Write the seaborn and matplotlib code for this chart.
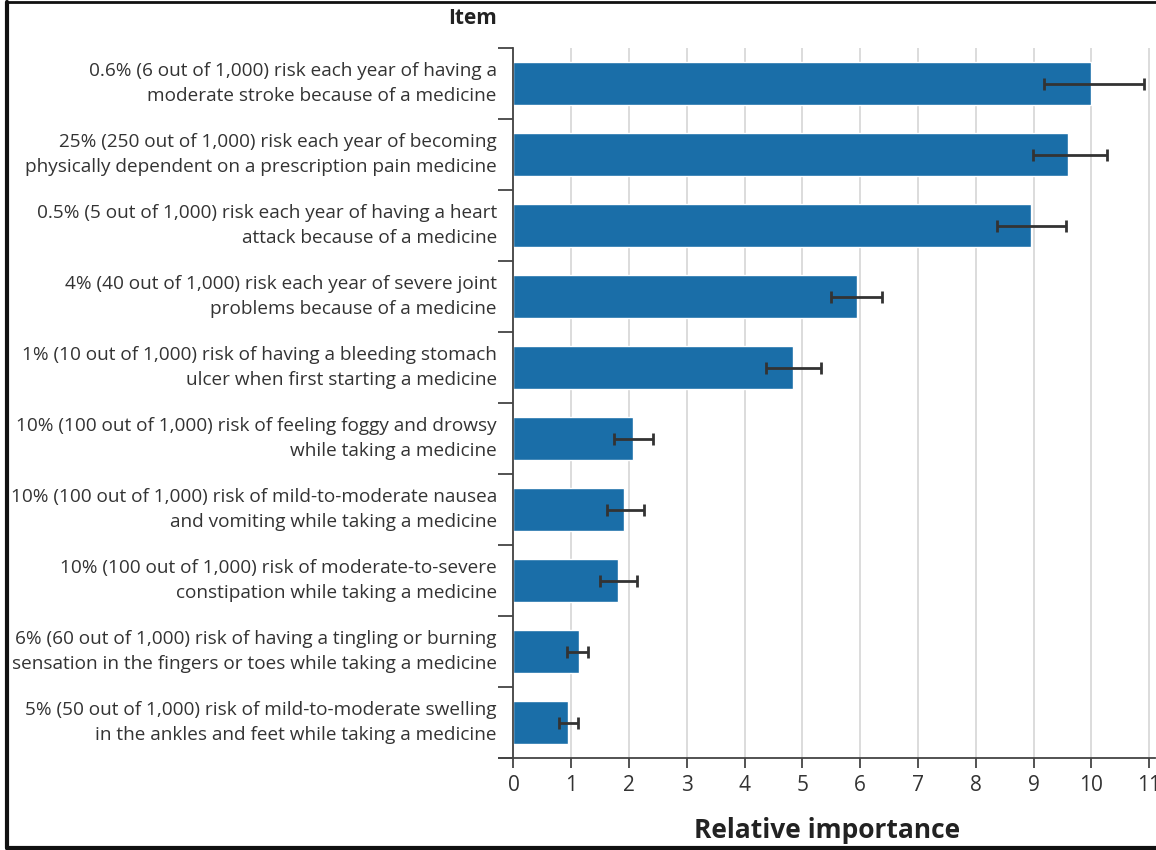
import numpy as np
import pandas as pd
import seaborn as sns
import matplotlib.pyplot as plt
from matplotlib.lines import Line2D

items = [
    "0.6% (6 out of 1,000) risk each year of having a\nmoderate stroke because of a medicine",
    "25% (250 out of 1,000) risk each year of becoming\nphysically dependent on a prescription pain medicine",
    "0.5% (5 out of 1,000) risk each year of having a heart\nattack because of a medicine",
    "4% (40 out of 1,000) risk each year of severe joint\nproblems because of a medicine",
    "1% (10 out of 1,000) risk of having a bleeding stomach\nulcer when first starting a medicine",
    "10% (100 out of 1,000) risk of feeling foggy and drowsy\nwhile taking a medicine",
    "10% (100 out of 1,000) risk of mild-to-moderate nausea\nand vomiting while taking a medicine",
    "10% (100 out of 1,000) risk of moderate-to-severe\nconstipation while taking a medicine",
    "6% (60 out of 1,000) risk of having a tingling or burning\nsensation in the fingers or toes while taking a medicine",
    "5% (50 out of 1,000) risk of mild-to-moderate swelling\nin the ankles and feet while taking a medicine",
]
importance = [10.0, 9.6, 8.95, 5.94, 4.84, 2.06, 1.91, 1.80, 1.13, 0.95]
ci_low = [9.18, 8.98, 8.36, 5.49, 4.37, 1.74, 1.61, 1.50, 0.92, 0.78]
ci_high = [10.9, 10.26, 9.56, 6.38, 5.32, 2.42, 2.25, 2.14, 1.29, 1.11]
x_ticks = list(range(0, 12))

df = pd.DataFrame({"Item": items, "Relative importance": importance})

sns.set_style("white")
plt.rcParams['font.family'] = ['Open Sans', 'DejaVu Sans']

fig = plt.figure(figsize=(11.56, 8.5), dpi=100)
ax = fig.add_axes([0.4317, 0.1082, 0.5675, 0.8353])

bar_color = '#1a6ea8'
sns.barplot(data=df, x="Relative importance", y="Item", orient="h",
            color=bar_color, width=0.6, saturation=1, ax=ax, zorder=2)

# asymmetric error bars
lo = np.array(importance) - np.array(ci_low)
hi = np.array(ci_high) - np.array(importance)
ax.errorbar(importance, np.arange(len(items)), xerr=[lo, hi], fmt='none',
            ecolor='#333333', elinewidth=2, capsize=4.5, capthick=2, zorder=3)

# spine setup first: moving a spine resets the ticks
sns.despine(ax=ax, top=True, right=True)
ax.spines['left'].set_position(('data', 0))
ax.spines['left'].set_color('#444444')
ax.spines['left'].set_linewidth(1.3)
ax.spines['bottom'].set_color('#444444')
ax.spines['bottom'].set_linewidth(1.3)

ax.set_xlim(-0.25, 11.1)
ax.set_ylim(len(items) - 0.5, -0.5)
ax.set_xticks(x_ticks)
ax.set_xticklabels([str(t) for t in x_ticks])
for t in x_ticks:
    ax.axvline(t, color='#d9d9d9', lw=1.3, zorder=0)

# category labels, separators between categories
ax.set_yticks(np.arange(len(items)))
ax.set_yticklabels(items)
ax.set_yticks(np.arange(len(items) + 1) - 0.5, minor=True)
ax.tick_params(axis='y', which='major', left=False, length=0, pad=12,
               labelsize=13.7, labelcolor='#333333')
ax.tick_params(axis='y', which='minor', left=True, length=11, width=1.3,
               color='#444444')
ax.tick_params(axis='x', bottom=True, length=7, width=1.3, color='#444444',
               pad=5, labelsize=15, labelcolor='#333333')
for lab in ax.get_yticklabels():
    lab.set_linespacing(1.55)
    lab.set_va('center')

ax.set_ylabel("")
ax.set_xlabel("Relative importance", fontsize=19, fontweight='bold',
              color='#222222', labelpad=15)

fig.text(0.43, 0.978, "Item", fontsize=15, fontweight='bold',
         color='#222222', ha='right', va='center')

# image frame
fig.add_artist(Line2D([0.006, 0.006], [0.002, 0.998], transform=fig.transFigure,
                      color='#111111', lw=3))
fig.add_artist(Line2D([0.006, 1.0], [0.998, 0.998], transform=fig.transFigure,
                      color='#111111', lw=2))
fig.add_artist(Line2D([0.006, 1.0], [0.002, 0.002], transform=fig.transFigure,
                      color='#111111', lw=3))

fig.savefig("out.png", dpi=100)
